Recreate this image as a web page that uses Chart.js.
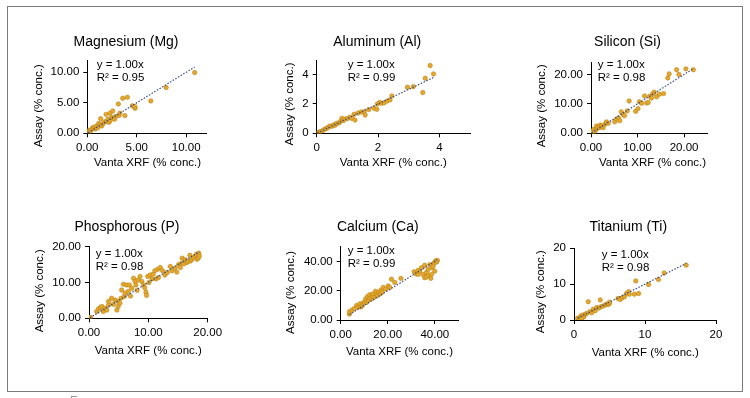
<!DOCTYPE html>
<html><head><meta charset="utf-8">
<script src="https://cdn.jsdelivr.net/npm/chart.js@4/dist/chart.umd.min.js"></script>
<style>
html,body{margin:0;padding:0;background:#fff;}
#wrap{position:relative;width:750px;height:398px;overflow:hidden;background:#fff;}
#frame{position:absolute;left:7px;top:6px;width:736px;height:386px;box-sizing:border-box;border:1px solid #7b7b7b;}
canvas{position:absolute;}
#mark{position:absolute;left:71px;top:396px;width:6px;height:3px;box-sizing:border-box;border-top:1px solid #999;border-left:1px solid #999;}
</style></head>
<body><div id="wrap"><div id="frame"></div>
<canvas id="c0" width="250" height="199"></canvas>
<canvas id="c1" width="250" height="199"></canvas>
<canvas id="c2" width="250" height="199"></canvas>
<canvas id="c3" width="250" height="199"></canvas>
<canvas id="c4" width="250" height="199"></canvas>
<canvas id="c5" width="250" height="199"></canvas>
<div id="mark"></div></div>
<script>
// ---------- DATA ----------
const titles = ['Magnesium (Mg)','Aluminum (Al)','Silicon (Si)','Phosphorous (P)','Calcium (Ca)','Titanium (Ti)'];
const xTitle = 'Vanta XRF (% conc.)';
const yTitle = 'Assay (% conc.)';
const eqLabels = ['y = 1.00x','y = 1.00x','y = 1.00x','y = 1.00x','y = 1.00x','y = 1.00x'];
const r2Labels = ['R² = 0.95','R² = 0.99','R² = 0.98','R² = 0.98','R² = 0.99','R² = 0.98'];
const xMax = [12,5,25,20,50,20];
const xStep = [5,2,10,10,20,10];
const yMax = [12,5,24,20,50,20];
const yStep = [5,2,10,10,20,10];
const tickDecimals = [2,0,2,2,2,0];

const mgX = [0.1,0.2,0.3,0.44,0.55,0.68,0.8,0.95,1.05,1.15,1.3,1.35,1.45,1.6,1.75,1.9,1.96,2.1,2.2,2.3,2.3,2.45,2.57,2.6,2.75,2.9,3.14,3.2,3.3,3.58,3.8,4.05,4.56,4.83,4.8,6.42,7.97,10.85];
const mgY = [0.2,0.5,0.3,0.66,0.9,1.0,0.7,1.2,0.9,1.6,1.4,2.4,1.2,1.6,1.9,3.1,1.9,2.3,1.8,3.3,2.1,2.6,3.66,2.5,2.3,2.8,4.8,2.9,3.3,5.74,2.9,5.9,4.5,4.1,4.4,5.3,7.49,9.95];
const mgTrendX = [0.1,10.85];
const mgTrendY = [0.1,10.85];

const alX = [0.02,0.06,0.11,0.16,0.22,0.28,0.33,0.38,0.43,0.5,0.56,0.6,0.65,0.72,0.77,0.82,0.87,0.92,1.0,1.08,1.14,1.22,1.25,1.35,1.45,1.55,1.58,1.7,1.87,1.96,1.98,2.05,2.12,2.2,2.3,2.39,2.45,2.96,3.15,3.46,3.54,3.7,3.81];
const alY = [0.0,0.05,0.11,0.14,0.23,0.3,0.34,0.42,0.5,0.48,0.58,0.55,0.68,0.7,0.8,1.02,0.87,0.98,1.0,1.1,1.02,1.3,0.91,1.38,1.45,1.48,1.25,1.62,1.71,1.64,2.0,2.1,2.05,2.08,2.2,2.28,2.55,3.14,3.18,2.78,3.76,4.62,4.05];
const alTrendX = [0.02,3.81];
const alTrendY = [0.02,3.81];

const siX = [0.1,0.4,0.6,0.8,1.1,1.2,1.4,1.8,2.0,2.3,2.6,3.0,3.3,3.7,5.1,5.5,5.9,6.2,6.5,6.9,7.2,7.8,8.2,9.6,10.1,10.4,10.9,11.5,12.0,12.3,12.6,13.0,13.3,13.6,14.1,14.7,15.6,16.5,16.8,18.4,18.9,20.4,22.0];
const siY = [0.1,0.7,1.4,0.5,1.3,2.5,1.8,2.0,2.8,2.5,1.9,3.1,3.9,3.4,3.9,4.8,5.2,4.3,7.3,6.4,6.0,7.6,11.0,7.5,8.4,10.7,10.2,12.7,10.3,10.5,12.6,12.0,13.5,14.0,12.4,13.3,13.5,18.8,20.2,21.6,20.0,21.9,21.6];
const siTrendX = [0.1,22.0];
const siTrendY = [0.1,22.0];

const pX = [0.17,0.3,1.3,1.6,1.9,2.2,2.4,2.7,3.0,3.3,3.3,3.8,4.1,4.4,4.7,4.9,4.9,5.2,5.4,5.5,5.8,5.96,6.07,6.35,6.6,6.8,7.0,7.2,7.5,7.75,7.9,8.1,8.3,8.6,8.9,9.2,9.4,9.6,9.7,9.9,10.1,10.3,10.6,10.8,11.1,11.3,11.6,11.7,12.0,12.4,12.8,13.2,13.7,14.0,14.5,14.8,15.1,15.4,15.6,15.7,16.0,16.2,16.5,16.7,17.0,17.1,17.3,17.6,17.9,18.1,18.2,18.4,18.5,18.6];
const pY = [0.3,0.1,1.9,2.6,3.0,3.3,1.9,2.8,2.3,3.7,4.7,5.6,3.9,5.1,2.3,3.3,4.7,4.2,5.6,7.9,9.5,6.1,7.0,9.3,7.5,9.3,6.2,8.4,11.2,10.3,9.3,7.8,10.7,11.7,10.3,9.3,8.5,7.3,6.4,11.7,10.0,12.1,11.0,12.3,13.3,11.0,13.7,11.4,14.2,13.3,12.1,12.8,14.5,13.3,14.0,12.9,15.0,14.2,15.4,16.8,15.2,16.4,15.6,15.9,17.6,16.0,16.4,16.9,17.3,17.9,16.5,16.8,18.2,17.4];
const pTrendX = [0.17,18.6];
const pTrendY = [0.17,18.6];

const caX = [3.7,3.7,4.7,5.8,6.8,7.5,8.2,8.6,9.2,9.6,10.0,10.6,11.0,11.4,11.7,12.2,12.4,13.1,13.4,13.8,14.3,14.8,15.2,15.7,16.2,16.8,17.1,17.6,18.1,19.1,20.2,20.9,21.6,23.0,25.6,31.2,32.0,32.9,32.9,33.6,34.3,35.0,35.7,35.7,36.4,36.4,37.1,37.5,37.9,38.3,38.6,38.8,39.3,39.7,40.0,40.4,40.8,41.1];
const caY = [4.0,5.6,6.7,7.8,10.0,8.9,11.1,8.9,10.0,11.4,12.2,14.4,12.0,16.0,13.3,14.8,17.3,14.4,16.2,17.8,15.6,19.6,17.5,16.7,18.9,17.8,20.4,19.0,22.2,21.1,23.3,22.2,27.8,25.6,28.4,32.9,31.5,33.8,31.1,33.3,35.6,31.1,37.3,28.9,32.2,29.3,34.4,30.5,37.8,28.4,31.1,35.6,36.7,38.9,33.3,40.4,39.5,40.7];
const caTrendX = [3.7,41.1];
const caTrendY = [3.7,41.1];

const tiX = [0.5,0.75,0.9,1.0,1.1,1.3,1.4,1.6,1.8,2.0,2.25,2.5,2.7,3.0,3.2,3.5,3.7,3.8,4.1,4.4,4.6,4.8,5.0,5.0,6.2,6.5,6.8,7.1,7.4,7.7,7.8,8.5,8.7,9.1,10.5,11.9,12.7,15.8];
const tiY = [0.5,0.2,0.75,1.2,0.4,1.4,0.9,1.6,1.85,5.1,2.3,2.0,3.0,2.6,3.5,3.3,5.6,3.7,3.9,4.2,4.4,4.3,4.6,5.0,6.0,5.7,6.2,6.5,7.4,7.9,7.2,7.2,10.9,7.4,9.9,11.3,13.1,15.3];
const tiTrendX = [0.5,15.8];
const tiTrendY = [0.5,15.8];

const seriesX = [mgX, alX, siX, pX, caX, tiX];
const seriesY = [mgY, alY, siY, pY, caY, tiY];
const trendX = [mgTrendX, alTrendX, siTrendX, pTrendX, caTrendX, tiTrendX];
const trendY = [mgTrendY, alTrendY, siTrendY, pTrendY, caTrendY, tiTrendY];

// ---------- LAYOUT (page pixel positions) ----------
const FONT = "'Liberation Sans', Arial, Helvetica, sans-serif";
const layoutCfg = [
  {cell:[0,0],    area:[87.3,60,206,133.3],    title:[126,42],     yT:[39.3,105.8], xT:[147.5,163],  ann:[96.7,65]},
  {cell:[250,0],  area:[316.7,60,470,133.3],   title:[377.2,42],   yT:[290,104],    xT:[393.3,163.3],ann:[347.7,65]},
  {cell:[500,0],  area:[591,62.7,707.3,133.3], title:[627.5,42],   yT:[541.7,105.8],xT:[652.5,163],  ann:[597.7,65]},
  {cell:[0,199],  area:[89,246.7,207.7,318.3], title:[127,226.7],  yT:[40,290.8],   xT:[148.3,351],  ann:[95.7,254.3]},
  {cell:[250,199],area:[340.7,246.7,458.3,320],title:[377.8,226.7],yT:[290.7,292.5],xT:[399.5,351.7],ann:[347.7,251]},
  {cell:[500,199],area:[574,248.3,716,320],    title:[628.3,227.5],yT:[540.7,291.7],xT:[645.3,352.7],ann:[601.7,255]}
];
const CW = 250, CH = 199, YW = 40, XH = 25;

function makeChart(i){
  const L = layoutCfg[i];
  const cv = document.getElementById('c'+i);
  cv.style.left = L.cell[0]+'px'; cv.style.top = L.cell[1]+'px';
  cv.style.width = CW+'px'; cv.style.height = CH+'px';
  const ox = L.cell[0], oy = L.cell[1];
  const pad = {
    left: L.area[0]-ox-YW,
    top: L.area[1]-oy,
    right: ox+CW-L.area[2],
    bottom: oy+CH-L.area[3]-XH
  };
  const pts = seriesX[i].map((x,k)=>({x:x, y:seriesY[i][k]}));
  const tr = trendX[i].map((x,k)=>({x:x, y:trendY[i][k]}));
  const dec = tickDecimals[i];
  const textPlugin = {
    id:'panelText'+i,
    afterDraw(chart){
      const ctx = chart.ctx;
      ctx.save();
      ctx.fillStyle = '#000';
      ctx.textBaseline = 'middle';
      ctx.textAlign = 'center';
      ctx.font = '14px '+FONT;
      ctx.fillText(titles[i], L.title[0]-ox, L.title[1]-oy);
      ctx.font = '11.5px '+FONT;
      ctx.fillText(xTitle, L.xT[0]-ox, L.xT[1]-oy);
      ctx.save();
      ctx.translate(L.yT[0]-ox, L.yT[1]-oy);
      ctx.rotate(-Math.PI/2);
      ctx.fillText(yTitle, 0, 0);
      ctx.restore();
      ctx.textAlign = 'left';
      ctx.fillText(eqLabels[i], L.ann[0]-ox, L.ann[1]-oy);
      ctx.fillText(r2Labels[i], L.ann[0]-ox, L.ann[1]-oy+12.7);
      ctx.restore();
    }
  };
  const axisCommon = (max, step) => ({
    type:'linear', min:0, max:max,
    grid:{display:true, drawOnChartArea:false, drawTicks:true, tickLength:4, color:'#000', lineWidth:1},
    border:{display:true, color:'#000', width:1},
    ticks:{stepSize:step, includeBounds:false, color:'#000', padding:4,
      font:{family:FONT, size:11.5},
      callback:(v)=>Number(v).toFixed(dec)}
  });
  const xs = axisCommon(xMax[i], xStep[i]);
  xs.position = 'bottom';
  xs.afterFit = (s)=>{ s.height = XH; };
  xs.ticks.maxRotation = 0; xs.ticks.autoSkip = false;
  const ys = axisCommon(yMax[i], yStep[i]);
  ys.position = 'left';
  ys.afterFit = (s)=>{ s.width = YW; };
  new Chart(cv, {
    type:'scatter',
    data:{datasets:[
      {label:'trend', data:tr, showLine:true, order:0, borderColor:'#3b4a7e', borderWidth:1.2,
       borderDash:[1.5,1.6], pointRadius:0, fill:false},
      {label:'data', data:pts, order:1, pointRadius:2.2, pointHoverRadius:2.2,
       backgroundColor:'#e6a82c', borderColor:'#b9841a', borderWidth:0.6}
    ]},
    options:{
      responsive:false, animation:false, devicePixelRatio:1,
      layout:{padding:pad},
      plugins:{legend:{display:false}, title:{display:false}, tooltip:{enabled:false}},
      scales:{x:xs, y:ys}
    },
    plugins:[textPlugin]
  });
}
for (let i=0;i<6;i++) makeChart(i);
</script>
</body></html>
